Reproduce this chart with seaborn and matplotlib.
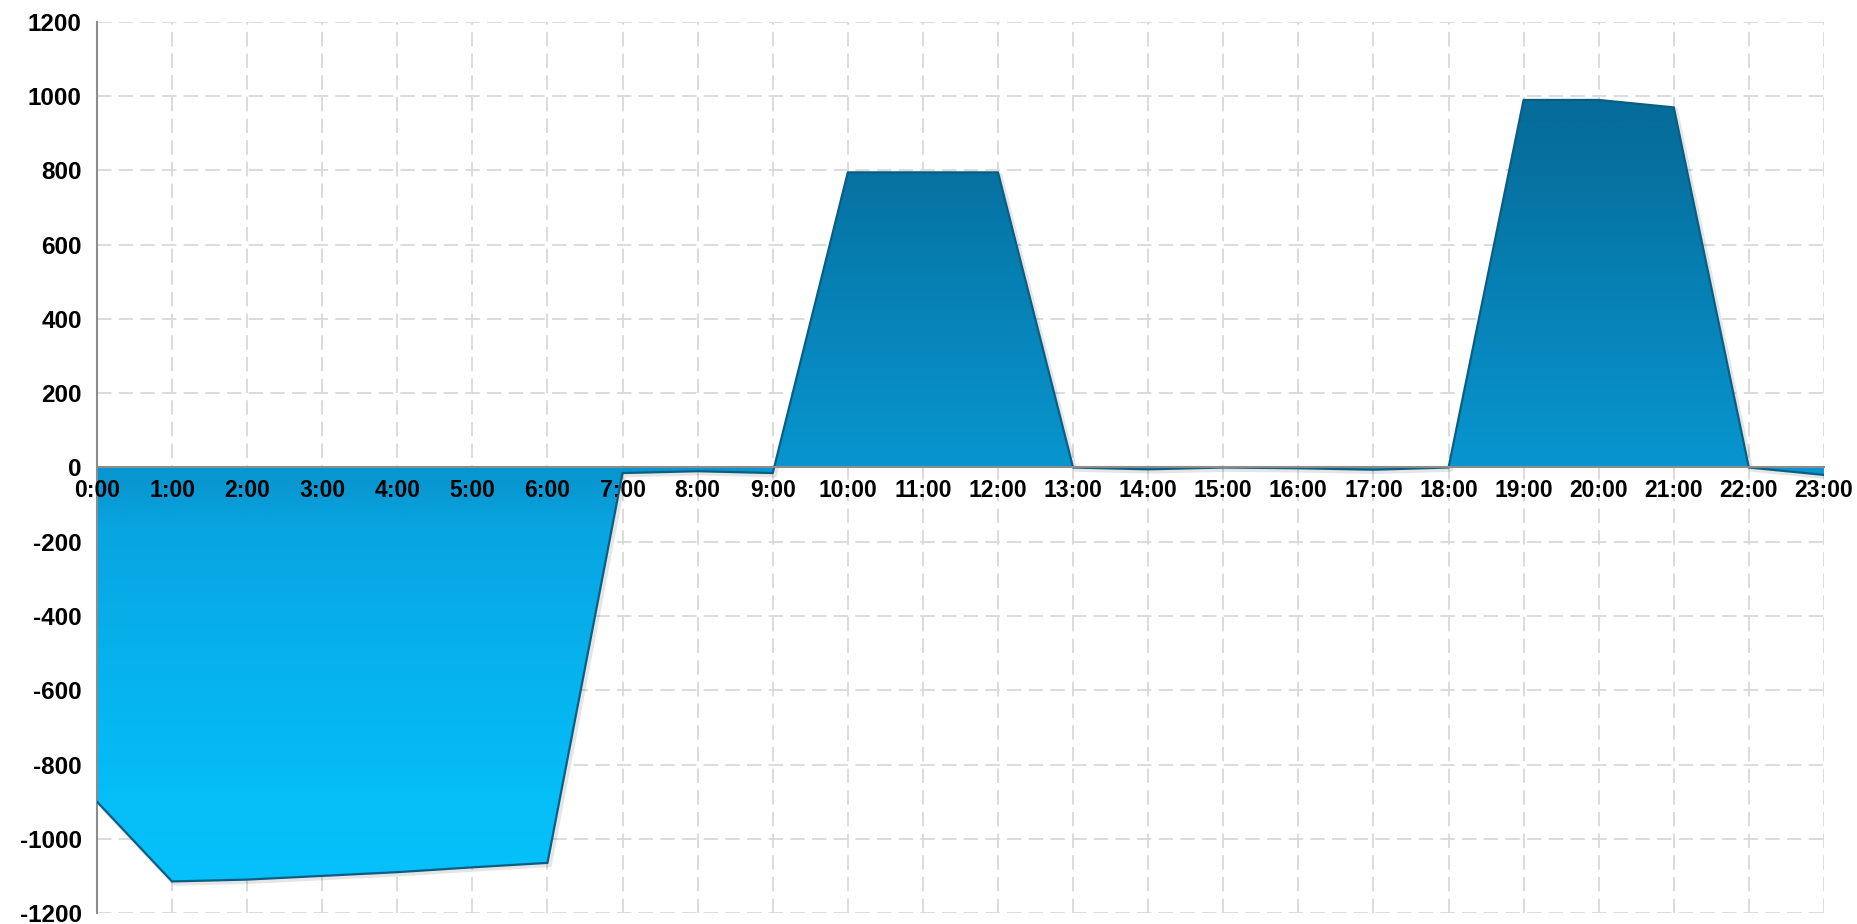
import numpy as np
import pandas as pd
import matplotlib
matplotlib.use("Agg")
import matplotlib.pyplot as plt
import seaborn as sns
from matplotlib.colors import LinearSegmentedColormap

hours = ["0:00", "1:00", "2:00", "3:00", "4:00", "5:00", "6:00", "7:00",
         "8:00", "9:00", "10:00", "11:00", "12:00", "13:00", "14:00", "15:00",
         "16:00", "17:00", "18:00", "19:00", "20:00", "21:00", "22:00", "23:00"]
values = [-900, -1115, -1110, -1100, -1090, -1077, -1065, -15,
          -10, -15, 795, 795, 795, 0, -5, 0,
          -2, -6, 0, 990, 990, 970, 0, -20]
y_ticks = [-1200, -1000, -800, -600, -400, -200, 0, 200, 400, 600, 800, 1000, 1200]

df = pd.DataFrame({"hour": hours, "value": values})
df["pos"] = np.arange(len(hours))

sns.set_style("white")
plt.rcParams["font.family"] = ["Liberation Sans", "DejaVu Sans"]

fig = plt.figure(figsize=(18.57, 9.24), dpi=100)
ax = fig.add_axes([0.0522, 0.0119, 0.9300, 0.9643])

ymin, ymax = -1200, 1200
xmin, xmax = 0, len(hours) - 1

# manual grid underneath everything
grid_kw = dict(colors="#D9D9D9", linestyles=(0, (8, 4)), linewidth=1.3, zorder=0.2)
ax.vlines(df["pos"], ymin, ymax, **grid_kw)
ax.hlines(y_ticks, xmin, xmax, **grid_kw)

# gradient fill clipped to the area
poly = ax.fill_between(df["pos"], df["value"], 0, color="none", zorder=1)
cmap = LinearSegmentedColormap.from_list(
    "grad", [(0.0, "#05C1FB"), (0.12, "#05BDF7"), (0.45, "#08A5E2"),
             (0.5, "#0898D2"), (0.75, "#0781B5"), (0.92, "#06709F"), (1.0, "#066C9A")])
grad = np.linspace(0, 1, 512).reshape(-1, 1)
img = ax.imshow(grad, extent=[xmin, xmax, -1120, 1000], origin="lower",
                aspect="auto", cmap=cmap, zorder=1)
img.set_clip_path(poly.get_paths()[0], transform=ax.transData)
ax.set_xlim(xmin, xmax)
ax.set_ylim(ymin, ymax)

# outline + soft shadow
ax.plot(df["pos"] + 0.03, np.array(values) - 6, color="#000000", alpha=0.10,
        linewidth=3, zorder=0.9)
sns.lineplot(data=df, x="pos", y="value", ax=ax, color="#0A5E84",
             linewidth=1.6, zorder=3, legend=False)

# axes styling
for s in ["top", "right"]:
    ax.spines[s].set_visible(False)
ax.spines["left"].set_color("#8C8C8C")
ax.spines["left"].set_linewidth(1.5)
ax.spines["bottom"].set_position(("data", 0))
ax.spines["bottom"].set_color("#8C8C8C")
ax.spines["bottom"].set_linewidth(1.5)
ax.spines["bottom"].set_zorder(4)

ax.set_xticks(df["pos"])
ax.set_xticklabels(hours, fontsize=16.5, fontweight="bold", color="black")
ax.set_yticks(y_ticks)
ax.set_yticklabels([str(v) for v in y_ticks], fontsize=17.5, fontweight="bold", color="black")
ax.tick_params(axis="x", length=0, pad=8)
ax.tick_params(axis="y", length=0, pad=11)
ax.set_xlabel("")
ax.set_ylabel("")
ax.set_axisbelow(False)
ax.grid(False)

fig.savefig("out.png", dpi=100, facecolor="white")
